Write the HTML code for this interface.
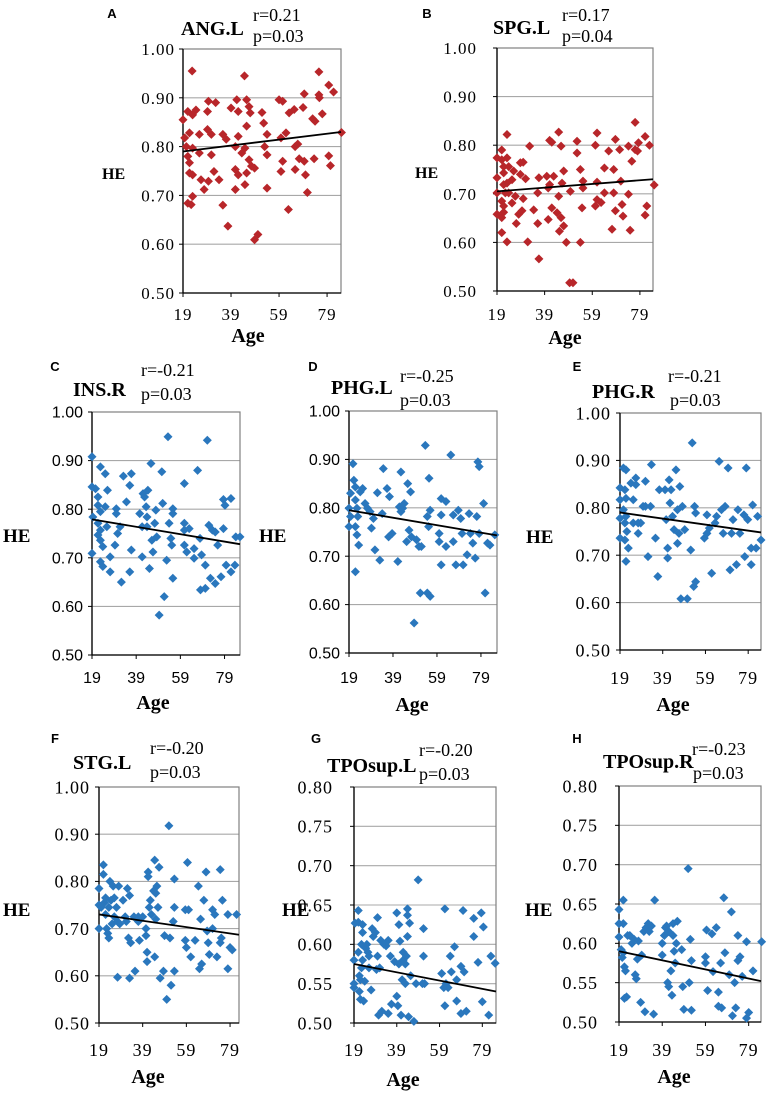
<!DOCTYPE html>
<html><head><meta charset="utf-8">
<style>
html,body{margin:0;padding:0;background:#fff;}
svg{display:block;}
</style></head>
<body>
<svg id="fig" width="767" height="1097" viewBox="0 0 767 1097" xmlns="http://www.w3.org/2000/svg"></svg>
<script>
// ---------- DATA ----------
const xTicks = [19, 39, 59, 79];
const yTicksMain = [0.50, 0.60, 0.70, 0.80, 0.90, 1.00];
const yTicksTPO = [0.50, 0.55, 0.60, 0.65, 0.70, 0.75, 0.80];
const titles = ["ANG.L","SPG.L","INS.R","PHG.L","PHG.R","STG.L","TPOsup.L","TPOsup.R"];
const rVals = ["r=0.21","r=0.17","r=-0.21","r=-0.25","r=-0.21","r=-0.20","r=-0.20","r=-0.23"];
const pVals = ["p=0.03","p=0.04","p=0.03","p=0.03","p=0.03","p=0.03","p=0.03","p=0.03"];
const fitStart = [0.790,0.705,0.779,0.795,0.790,0.730,0.575,0.590];
const fitEnd   = [0.830,0.730,0.728,0.743,0.748,0.687,0.540,0.552];

const pointsA = [[22.8,.955],[44.6,.945],[19,.855],[21,.872],[23,.865],[24.4,.875],[19.7,.818],[21.7,.828],[25.8,.825],[29.2,.835],[30.8,.825],[29.2,.872],[32.6,.89],[29.6,.893],[20.4,.80],[23,.797],[25.8,.787],[30.8,.783],[21,.78],[21.7,.767],[21.7,.746],[23,.742],[26.5,.732],[27.8,.712],[29.6,.729],[31.9,.749],[34,.732],[21,.684],[22.4,.681],[23,.698],[35.6,.68],[37.7,.637],[35.6,.825],[37,.815],[39,.879],[41.4,.896],[42,.872],[42,.821],[40.8,.80],[40.8,.753],[42,.742],[40.8,.712],[44.8,.722],[43.5,.787],[44.8,.797],[45.5,.842],[45.5,.896],[46.5,.882],[47,.869],[45.5,.746],[46.5,.773],[47.5,.76],[48.8,.756],[48.8,.609],[50.2,.62],[51.9,.87],[52.6,.848],[53,.80],[54,.783],[54,.825],[54,.715],[59,.896],[60.5,.893],[59.8,.818],[61.9,.828],[59.8,.749],[60.5,.77],[62.9,.671],[63.2,.869],[65.3,.876],[65.7,.80],[65.7,.753],[75.6,.953],[79.7,.926],[81.7,.912],[75.6,.906],[75.8,.90],[69.5,.908],[69,.88],[77,.867],[73,.857],[74,.852],[85,.829],[66.8,.805],[67.4,.775],[69.5,.77],[73.6,.775],[79.7,.781],[80.4,.761],[70,.742],[70.8,.706]];
const pointsB = [[19,.774],[19,.733],[19,.702],[19,.658],[21,.79],[21,.77],[21.8,.756],[21.8,.743],[21.8,.719],[22.5,.702],[21,.685],[21.8,.675],[21,.651],[21.8,.662],[21,.62],[23.2,.822],[23.2,.774],[23.9,.756],[23.2,.722],[23.9,.702],[23.2,.601],[25.3,.729],[26,.747],[25.3,.681],[26.7,.695],[27.1,.639],[28.8,.764],[30,.765],[28.8,.74],[31,.731],[30,.69],[28.1,.658],[29.5,.665],[32.7,.798],[31.9,.601],[34.4,.667],[36.1,.702],[36.1,.639],[36.6,.733],[36.6,.566],[39.9,.736],[41.1,.81],[42,.806],[40.5,.712],[41.1,.719],[42.8,.736],[42,.671],[40.5,.647],[44.2,.661],[44.9,.695],[44.9,.827],[45.9,.798],[46.3,.722],[47,.747],[45.2,.623],[47,.634],[45.9,.651],[48.1,.60],[49.8,.705],[49.5,.517],[50.9,.517],[52.6,.808],[52.6,.784],[54,.75],[55.1,.726],[55.1,.712],[54.7,.671],[54,.60],[60.3,.80],[61,.825],[61,.724],[60.3,.675],[61,.688],[62.7,.682],[64.1,.753],[64.1,.702],[65.9,.788],[67.3,.627],[68,.75],[68,.702],[68.7,.812],[68.7,.665],[70.5,.791],[71,.726],[71.5,.678],[71.9,.654],[74.2,.798],[74.2,.699],[74.9,.625],[75.6,.767],[77,.847],[77,.791],[78,.788],[78.4,.805],[81.2,.818],[81.2,.656],[81.9,.675],[83,.80],[85,.718]];
const pointsC = [[19,.908],[19,.846],[20.6,.842],[19.4,.784],[19,.709],[21.7,.825],[21.7,.808],[22.8,.795],[21.7,.771],[22.8,.757],[22.8,.736],[21.7,.747],[23.9,.723],[22.8,.692],[23.9,.682],[22.8,.887],[25,.873],[26,.839],[25,.805],[25.7,.764],[27.2,.702],[27.2,.671],[29.4,.726],[30,.801],[30,.791],[30.6,.75],[31.7,.764],[32.3,.65],[33.2,.868],[34.6,.815],[36.1,.849],[36.8,.873],[36.8,.716],[36.1,.671],[40.6,.791],[41.7,.764],[41.7,.702],[42.1,.832],[42.8,.825],[43.5,.805],[43.9,.784],[43.9,.764],[44.3,.839],[45,.678],[45.7,.894],[46.1,.736],[46.6,.712],[47.4,.771],[47.9,.798],[48.3,.743],[49.4,.582],[50.6,.877],[51,.812],[51.7,.62],[52.8,.695],[53.4,.949],[53.9,.771],[54.7,.74],[55.1,.726],[55.6,.801],[55.6,.791],[55.6,.658],[60.8,.853],[60.8,.771],[60.8,.757],[60.8,.726],[61.9,.712],[63,.76],[65.2,.719],[65.2,.699],[66.8,.88],[67.9,.74],[68.1,.634],[68.6,.706],[70.3,.637],[70.3,.685],[71.2,.942],[71.9,.767],[72.6,.658],[73.5,.757],[74.8,.753],[74.8,.647],[75.9,.726],[77.4,.661],[78.5,.82],[78.5,.76],[79.2,.808],[79.7,.685],[81.9,.822],[81.9,.671],[83.7,.685],[84.1,.743],[86,.743]];
const pointsD = [[19.7,.830],[19,.799],[19.7,.782],[19,.761],[20.8,.891],[21.2,.857],[21.9,.843],[21.9,.816],[22.6,.799],[23,.782],[21.9,.761],[22.6,.744],[23.4,.723],[21.9,.668],[24.1,.833],[25.2,.840],[26.3,.809],[27.4,.799],[28.6,.792],[29.2,.758],[30.1,.778],[30.8,.713],[31.9,.831],[33,.692],[34.1,.788],[34.6,.881],[36.3,.840],[37,.740],[37.4,.823],[38.6,.747],[41.2,.689],[41.9,.802],[42.6,.874],[42.6,.792],[43.4,.799],[44.1,.809],[45.2,.730],[45.7,.850],[46.3,.754],[47,.833],[47.4,.740],[48.6,.562],[49.7,.734],[50.8,.720],[51.4,.624],[51.9,.720],[53.7,.929],[54.6,.782],[54.6,.624],[55.4,.861],[55.9,.795],[55.9,.617],[55.2,.761],[60,.747],[60,.730],[60.9,.819],[60.9,.785],[60.9,.682],[63.1,.813],[63.1,.720],[65.3,.909],[66.4,.785],[66.4,.730],[67.6,.682],[68.7,.795],[69.8,.778],[70.4,.747],[70.9,.682],[72.7,.703],[73.6,.788],[74.2,.747],[75.3,.727],[76.4,.696],[77.1,.782],[77.6,.895],[78.2,.885],[78.2,.747],[80.2,.809],[80.9,.624],[82,.727],[83.1,.723],[85.3,.744]];
const pointsE = [[19,.842],[19,.817],[19,.778],[19,.736],[20.6,.884],[21.8,.880],[21.3,.838],[21.8,.820],[20.6,.796],[21.8,.782],[21.3,.768],[22.2,.750],[21.3,.732],[22.9,.715],[21.8,.687],[24.1,.852],[25.2,.817],[25.2,.768],[26.4,.863],[26.4,.849],[27.5,.746],[28.7,.768],[29.8,.803],[30.9,.856],[30.9,.803],[27.5,.768],[32.1,.697],[33.3,.803],[33.7,.891],[35.6,.736],[36.7,.655],[37.4,.838],[40.1,.838],[40.6,.775],[41.3,.694],[41.3,.715],[42.4,.810],[42,.859],[42.9,.838],[43.6,.782],[44.3,.754],[45.2,.880],[45.9,.796],[45.9,.725],[46.6,.746],[47,.845],[47.5,.608],[48.2,.803],[49.3,.754],[50.5,.608],[52.1,.711],[52.8,.937],[53.9,.803],[53.5,.634],[54.4,.644],[54.4,.789],[58.5,.736],[59.7,.746],[59.7,.785],[60.8,.757],[61.9,.662],[63.5,.768],[64.2,.782],[65.4,.898],[66.5,.796],[67.3,.746],[68.2,.803],[69.6,.884],[70.5,.669],[71.2,.746],[71.9,.775],[73.5,.680],[74.2,.796],[75.1,.746],[77,.785],[77.4,.697],[78.1,.884],[78.8,.775],[80.4,.715],[80.4,.680],[81.1,.806],[82.7,.715],[83.4,.782],[85,.732]];
const pointsF = [[19,.785],[19,.75],[19,.70],[20,.745],[21,.835],[21,.815],[21.5,.755],[22,.73],[22,.765],[22.5,.70],[23,.69],[23.5,.68],[23.5,.745],[24,.80],[24.5,.76],[25,.71],[25.5,.79],[26,.765],[26,.725],[27,.745],[27.5,.715],[28,.79],[28.5,.71],[27.5,.597],[30,.76],[31,.725],[31.5,.715],[32,.785],[32.5,.68],[33,.77],[33.5,.67],[33,.595],[35,.725],[35.5,.61],[37,.725],[37,.715],[37.5,.675],[39,.725],[40.5,.70],[40.5,.685],[41,.65],[41,.63],[41.5,.82],[41.5,.81],[42,.745],[42.5,.76],[43,.73],[44,.78],[44.5,.845],[44.5,.64],[45,.775],[45,.72],[45.5,.79],[46,.745],[46.5,.83],[47,.595],[48.5,.61],[49,.685],[50,.55],[51,.918],[51.5,.68],[52,.58],[53,.715],[53.5,.805],[53.5,.745],[53.5,.61],[58.5,.74],[58.5,.675],[59,.66],[59.5,.84],[60,.74],[61,.64],[63,.675],[64.5,.79],[65,.615],[65.5,.72],[66,.625],[67,.76],[68,.82],[68.5,.695],[69,.67],[69.5,.645],[71,.74],[71,.70],[72,.73],[73,.64],[74.5,.825],[74.5,.67],[75,.68],[75.5,.76],[78,.73],[78,.615],[79,.66],[80,.655],[82,.73]];
const pointsG = [[19,.58],[19,.545],[19,.55],[19.5,.627],[21,.643],[21,.628],[21,.59],[21.5,.56],[21.5,.54],[22,.53],[22,.555],[22.5,.6],[22.5,.57],[23,.625],[23,.615],[23,.58],[23.5,.528],[24,.553],[24.5,.595],[25,.6],[25.5,.59],[26,.585],[26,.57],[27,.542],[27.5,.62],[28,.61],[29,.615],[29.5,.568],[30,.585],[30,.634],[30.5,.51],[31,.57],[31.5,.605],[32,.515],[33,.6],[34,.598],[35,.605],[35,.512],[36,.585],[36.5,.524],[38,.578],[39,.64],[39,.534],[39.5,.522],[40,.575],[40,.625],[40.5,.604],[41,.51],[41.5,.555],[42,.58],[42,.59],[43,.575],[43,.55],[43.5,.585],[44,.645],[44,.637],[44,.61],[44.5,.508],[45,.627],[45.5,.56],[47,.502],[48,.55],[49,.682],[51,.55],[51.5,.62],[51.5,.585],[52,.55],[60,.563],[61,.545],[61.5,.645],[61.5,.522],[62,.55],[63,.545],[64,.585],[64.5,.565],[66,.597],[67,.555],[67,.528],[69,.512],[69,.572],[70,.643],[70.5,.565],[71.5,.515],[75,.633],[75,.61],[77,.577],[78.5,.64],[79,.527],[79.5,.622],[82,.51],[83,.585],[85,.576]];
const pointsH = [[19,.643],[19,.625],[19,.608],[20,.592],[20.5,.582],[21,.655],[21,.625],[21,.588],[21.5,.57],[21.5,.53],[22,.565],[22.5,.532],[23,.61],[24,.61],[25,.6],[26,.605],[26.5,.56],[27,.555],[27.5,.58],[28,.603],[29,.525],[29.5,.585],[30.5,.615],[31,.513],[31.5,.62],[32.5,.625],[33,.615],[34,.622],[35,.51],[35.5,.655],[39,.6],[39,.585],[40,.61],[40.5,.62],[41,.622],[41.5,.55],[42,.615],[42,.545],[43,.565],[43.5,.534],[44,.625],[44,.61],[44.5,.59],[45,.575],[45.5,.6],[46,.628],[48,.592],[48.5,.545],[49,.516],[51,.695],[51.5,.55],[52,.605],[52.5,.578],[52.5,.515],[59,.583],[59,.575],[59.5,.617],[60,.54],[62,.612],[62.5,.564],[64,.62],[65,.538],[65,.52],[66,.575],[66.5,.518],[67.5,.658],[68,.588],[70,.56],[71,.64],[71.5,.508],[72.5,.55],[73,.518],[74,.61],[74,.578],[75,.583],[76,.558],[78,.505],[78,.602],[79,.512],[81,.565],[85,.602]];
const allPoints = [pointsA,pointsB,pointsC,pointsD,pointsE,pointsF,pointsG,pointsH];

// ---------- LAYOUT ----------
const NS = "http://www.w3.org/2000/svg";
const svg = document.getElementById('fig');
const RED = "#b8262a", BLUE = "#2a77bd";
const L = [
 {id:'a',letter:'A',lx:112,ly:18,x0:183,x1:341,y0:49,y1:293,xmax:84.8,tt:[181,35],r:[253,21],p:[253,42],tickFont:'serif',tickX:175,he:[102,179],xtb:320,age:[248,342],color:RED,ymin:.5,ymax:1,yt:0,fs:17,hs:16},
 {id:'b',letter:'B',lx:427,ly:18,x0:497,x1:653,y0:48,y1:291,xmax:84.5,tt:[493,34],r:[562,21],p:[562,42],tickFont:'serif',tickX:477,he:[415,178],xtb:320,age:[565,344],color:RED,ymin:.5,ymax:1,yt:0,fs:17,hs:16},
 {id:'c',letter:'C',lx:55,ly:371,x0:92,x1:240,y0:412,y1:655,xmax:86,tt:[73,396],r:[141,376],p:[141,400],tickFont:'sans',tickX:83,he:[3,542],xtb:683,age:[153,709],color:BLUE,ymin:.5,ymax:1,yt:0,fs:16,hs:19},
 {id:'d',letter:'D',lx:313,ly:371,x0:349,x1:497,y0:411,y1:653,xmax:86.3,tt:[331,394],r:[400,382],p:[400,406],tickFont:'sans',tickX:340,he:[259,542],xtb:683,age:[412,711],color:BLUE,ymin:.5,ymax:1,yt:0,fs:16,hs:19},
 {id:'e',letter:'E',lx:577,ly:371,x0:620,x1:761,y0:413,y1:650,xmax:85,tt:[592,398],r:[668,382],p:[670,406],tickFont:'serif',tickX:611,he:[526,543],xtb:684,age:[673,711],color:BLUE,ymin:.5,ymax:1,yt:0,fs:18,hs:19},
 {id:'f',letter:'F',lx:55,ly:743,x0:99,x1:239,y0:787,y1:1023,xmax:83.1,tt:[73,769],r:[150,754],p:[150,778],tickFont:'serif',tickX:90,he:[3,916],xtb:1056,age:[148,1083],color:BLUE,ymin:.5,ymax:1,yt:0,fs:18,hs:19},
 {id:'g',letter:'G',lx:316,ly:743,x0:354,x1:496,y0:787,y1:1023,xmax:85.4,tt:[327,772],r:[419,756],p:[419,780],tickFont:'serif',tickX:333,he:[282,916],xtb:1056,age:[403,1086],color:BLUE,ymin:.5,ymax:.8,yt:1,fs:18,hs:19},
 {id:'h',letter:'H',lx:577,ly:743,x0:619,x1:761,y0:786,y1:1022,xmax:84.7,tt:[603,768],r:[692,755],p:[693,779],tickFont:'serif',tickX:598,he:[525,916],xtb:1056,age:[674,1083],color:BLUE,ymin:.5,ymax:.8,yt:1,fs:18,hs:19}
];

function mk(tag, attrs, parent, text){
  const e = document.createElementNS(NS, tag);
  for (const k in attrs) e.setAttribute(k, attrs[k]);
  if (text !== undefined) e.textContent = text;
  (parent||svg).appendChild(e);
  return e;
}

L.forEach((c, i) => {
  const g = mk('g', {});
  
  
  const sx = v => c.x0 + (v - 19) / (c.xmax - 19) * (c.x1 - c.x0);
  const sy = v => c.y1 - (v - c.ymin) / (c.ymax - c.ymin) * (c.y1 - c.y0);
  const yTicks = c.yt ? yTicksTPO : yTicksMain;
  const tf = c.tickFont === 'sans' ? '"Liberation Sans",sans-serif' : '"Liberation Serif",serif';
  const ls = c.tickFont === 'sans' ? 0 : 1;

  const lt = mk('text', {x:c.lx, y:c.ly, 'font-family':'"Liberation Sans",sans-serif', 'font-weight':'bold', 'font-size':13, 'text-anchor':'middle'}, g, c.letter);
  
  

  yTicks.forEach(t => {
    if (t === c.ymin) return;
    const gl = mk('line', {x1:c.x0, x2:c.x1, y1:sy(t), y2:sy(t), stroke:'#a8a8a8', 'stroke-width':1.1}, g);
    
    
  });
  const fr = mk('rect', {x:c.x0, y:c.y0, width:c.x1-c.x0, height:c.y1-c.y0, fill:'none', stroke:'#808080', 'stroke-width':1.2}, g);
  
  
  const ya = mk('line', {x1:c.x0, x2:c.x0, y1:c.y0, y2:c.y1, stroke:'#000', 'stroke-width':1.3}, g);
  
  
  const xa = mk('line', {x1:c.x0, x2:c.x1, y1:c.y1, y2:c.y1, stroke:'#000', 'stroke-width':1.3}, g);
  
  

  yTicks.forEach(t => {
    mk('line', {x1:c.x0-4, x2:c.x0, y1:sy(t), y2:sy(t), stroke:'#000', 'stroke-width':1}, g);
    const tl = mk('text', {x:c.tickX, y:sy(t)+c.fs*0.35, 'font-family':tf, 'font-size':c.fs, 'letter-spacing':ls, 'text-anchor':'end'}, g, t.toFixed(2));
    
    
  });
  xTicks.forEach(t => {
    mk('line', {x1:sx(t), x2:sx(t), y1:c.y1, y2:c.y1+4, stroke:'#000', 'stroke-width':1}, g);
    const tl = mk('text', {x:sx(t), y:c.xtb, 'font-family':tf, 'font-size':c.fs, 'letter-spacing':ls, 'text-anchor':'middle'}, g, String(t));
    
    
  });

  allPoints[i].forEach(p => {
    const x = sx(p[0]), y = sy(p[1]), s = 4.5;
    const d = mk('polygon', {points:`${x},${y-s} ${x+s},${y} ${x},${y+s} ${x-s},${y}`, fill:c.color}, g);
    
    
  });
  const rl = mk('line', {x1:sx(19), y1:sy(fitStart[i]), x2:c.x1, y2:sy(fitEnd[i]), stroke:'#000', 'stroke-width':1.8}, g);
  
  

  const ti = mk('text', {x:c.tt[0], y:c.tt[1], 'font-family':'"Liberation Serif",serif', 'font-weight':'bold', 'font-size':20}, g, titles[i]);
  
  
  const rt = mk('text', {x:c.r[0], y:c.r[1], 'font-family':'"Liberation Serif",serif', 'font-size':18}, g, rVals[i]);
  
  
  const pt = mk('text', {x:c.p[0], y:c.p[1], 'font-family':'"Liberation Serif",serif', 'font-size':18}, g, pVals[i]);
  
  
  const he = mk('text', {x:c.he[0], y:c.he[1], 'font-family':'"Liberation Serif",serif', 'font-weight':'bold', 'font-size':c.hs}, g, 'HE');
  
  
  const ag = mk('text', {x:c.age[0], y:c.age[1], 'font-family':'"Liberation Serif",serif', 'font-weight':'bold', 'font-size':20, 'text-anchor':'middle'}, g, 'Age');
  
  
});
</script>
</body></html>
